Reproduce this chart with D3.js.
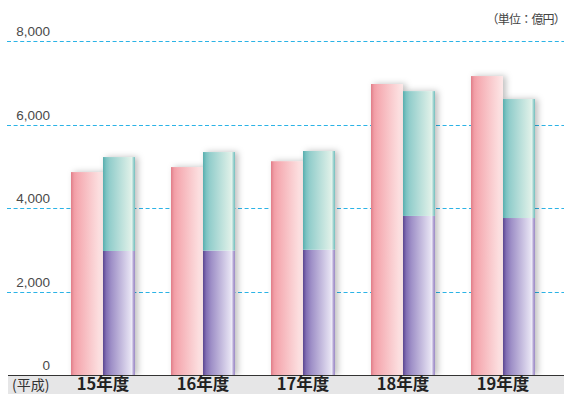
<!DOCTYPE html>
<html>
<head>
<meta charset="utf-8">
<script src="https://cdn.jsdelivr.net/npm/d3@7"></script>
<style>
html,body{margin:0;padding:0;background:#fff;overflow:hidden;}
svg{display:block;}
</style>
</head>
<body>
<div id="chart"></div>
<script>
const years = ["15年度","16年度","17年度","18年度","19年度"];
const pinkValues = [4860, 4980, 5120, 6970, 7160];
const purpleValues = [2970, 2980, 3000, 3810, 3760];
const tealValues = [2250, 2360, 2365, 2990, 2850];
const yTicks = [0, 2000, 4000, 6000, 8000];

const W = 564, H = 394;
const svg = d3.select("#chart").append("svg").attr("width", W).attr("height", H);
const defs = svg.append("defs");

function grad(id, stops){
  const g = defs.append("linearGradient").attr("id", id).attr("x1","0").attr("x2","1").attr("y1","0").attr("y2","0");
  stops.forEach(s => g.append("stop").attr("offset", s[0]).attr("stop-color", s[1]));
}
grad("gPink", [[0,"#e07d88"],[0.1,"#f19ea6"],[0.2,"#f5a9b0"],[0.6,"#f9c9cc"],[1,"#fde8e8"]]);
grad("gTeal", [[0,"#58aeae"],[0.1,"#7cc3c2"],[0.2,"#92cdcb"],[0.85,"#dcefe7"],[0.9,"#e4f3ec"],[0.94,"#a9d8d4"],[1,"#72bfbe"]]);
grad("gPurple", [[0,"#5a4690"],[0.1,"#826fb4"],[0.25,"#9d8ec6"],[0.85,"#e5e1f2"],[0.9,"#eeecf7"],[0.94,"#b9acd8"],[1,"#9b89c6"]]);

const f = defs.append("filter").attr("id","shadow").attr("x","-30%").attr("y","-10%").attr("width","170%").attr("height","130%");
f.append("feDropShadow").attr("dx",3).attr("dy",0).attr("stdDeviation",3).attr("flood-color","#000").attr("flood-opacity",0.25);

const y = d3.scaleLinear().domain([0, 8000]).range([375, 41]);
const x = d3.scaleBand().domain(years).range([53, 553]).paddingInner(0.36).paddingOuter(0.18);

// grid
svg.append("g").selectAll("line").data(yTicks.filter(d => d > 0)).join("line")
  .attr("x1", 7).attr("x2", W)
  .attr("y1", d => Math.round(y(d)) + 0.5).attr("y2", d => Math.round(y(d)) + 0.5)
  .attr("stroke", "#2bb3e6").attr("stroke-width", 1.2).attr("stroke-dasharray", "4,2.6");

// tick labels
svg.append("g").selectAll("text").data(yTicks).join("text")
  .attr("x", 50).attr("y", d => y(d) - 5)
  .attr("text-anchor", "end")
  .attr("font-family", "'Liberation Sans', Arial, sans-serif")
  .attr("font-size", 13.5).attr("fill", "#4a4a4a")
  .text(d => d3.format(",")(d));

// bars
const bw = 32;
const groups = svg.append("g").selectAll("g").data(years).join("g");
groups.each(function(d, i){
  const g = d3.select(this);
  const cx = x(d) + x.bandwidth() / 2;
  g.append("rect").attr("x", cx - bw).attr("width", bw)
    .attr("y", y(pinkValues[i])).attr("height", y(0) - y(pinkValues[i]))
    .attr("fill", "url(#gPink)").attr("filter", "url(#shadow)");
  const tot = purpleValues[i] + tealValues[i];
  g.append("rect").attr("x", cx).attr("width", bw)
    .attr("y", y(tot)).attr("height", y(0) - y(tot))
    .attr("fill", "#fff").attr("filter", "url(#shadow)");
  g.append("rect").attr("x", cx).attr("width", bw)
    .attr("y", y(purpleValues[i])).attr("height", y(0) - y(purpleValues[i]))
    .attr("fill", "url(#gPurple)");
  g.append("rect").attr("x", cx).attr("width", bw)
    .attr("y", y(tot)).attr("height", y(purpleValues[i]) - y(tot))
    .attr("fill", "url(#gTeal)");
});

// bottom band
svg.append("rect").attr("x", 8).attr("y", 376).attr("width", W - 8).attr("height", H - 376).attr("fill", "#e6e6e7");
svg.append("line").attr("x1", 8).attr("x2", W).attr("y1", 375.5).attr("y2", 375.5).attr("stroke", "#333").attr("stroke-width", 1.2);

const axis = d3.axisBottom(x).tickSize(0).tickPadding(0);
const ax = svg.append("g").attr("transform", "translate(0,376)").call(axis);
ax.select(".domain").remove();
ax.selectAll("text")
  .attr("y", 13.5).attr("dy", 0)
  .attr("font-family", "'Noto Sans CJK JP', sans-serif")
  .attr("font-size", 16.5).attr("font-weight", "bold").attr("fill", "#222");

svg.append("text").attr("x", 12).attr("y", 389.5)
  .attr("font-family", "'Noto Sans CJK JP', sans-serif")
  .attr("font-size", 14).attr("fill", "#333").text("(平成)");

svg.append("text").attr("x", 565).attr("y", 24).attr("text-anchor", "end")
  .attr("font-family", "'Noto Sans CJK JP', sans-serif")
  .attr("font-size", 12).attr("fill", "#444").attr("letter-spacing", -0.8)
  .text("（単位：億円）");
</script>
</body>
</html>
